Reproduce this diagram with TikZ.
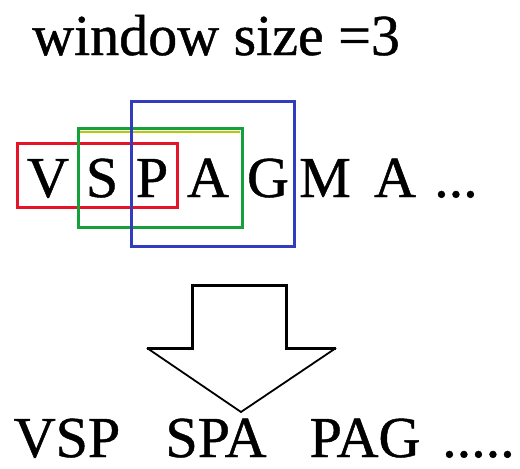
\documentclass[tikz,border=0pt]{standalone}
\usepackage{fontspec}
\setmainfont[FakeBold=0.8]{Liberation Serif}
\begin{document}
\begin{tikzpicture}[x=1pt,y=-1pt,
  txt/.style={inner sep=0pt,anchor=base,font=\fontsize{58}{60}\selectfont},
  win/.style={line width=3pt},
  shaft/.style={line width=3pt,line join=miter},
  head/.style={line width=1.8pt}]
\useasboundingbox (0,0) rectangle (520,469);
% title
\node[txt,anchor=base west] (title) at (32,55) {window size =3};
% sequence
\node[txt] (l1) at (48,197) {V};
\node[txt] (l2) at (102,197) {S};
\node[txt] (l3) at (152,197) {P};
\node[txt] (l4) at (208,197) {A};
\node[txt] (l5) at (268,197) {G};
\node[txt] (l6) at (325,197) {M};
\node[txt] (l7) at (395,197) {A};
\node[txt,anchor=base west] (l8) at (434,197) {...};
% windows
\draw[win,draw={rgb,255:red,230;green,20;blue,40}] (17,143) rectangle (177,207);
\draw[win,draw={rgb,255:red,20;green,160;blue,60}] (78,128) rectangle (242,227);
\draw[line width=2.5pt,draw={rgb,255:red,180;green,205;blue,0}] (80,132) -- (240,132);
\draw[win,draw={rgb,255:red,50;green,60;blue,190}] (131,101) rectangle (294,246);
% arrow
\draw[shaft] (147,348) -- (192,348) -- (192,285) -- (286,285) -- (286,348) -- (336,348);
\draw[head] (147,348) -- (241,412) -- (336,348);
% result
\node[txt] (w1) at (67,457) {VSP};
\node[txt] (w2) at (216,457) {SPA};
\node[txt] (w3) at (365,457) {PAG};
\node[txt,anchor=base west] (w4) at (442,457) {.....};
\end{tikzpicture}
\end{document}
